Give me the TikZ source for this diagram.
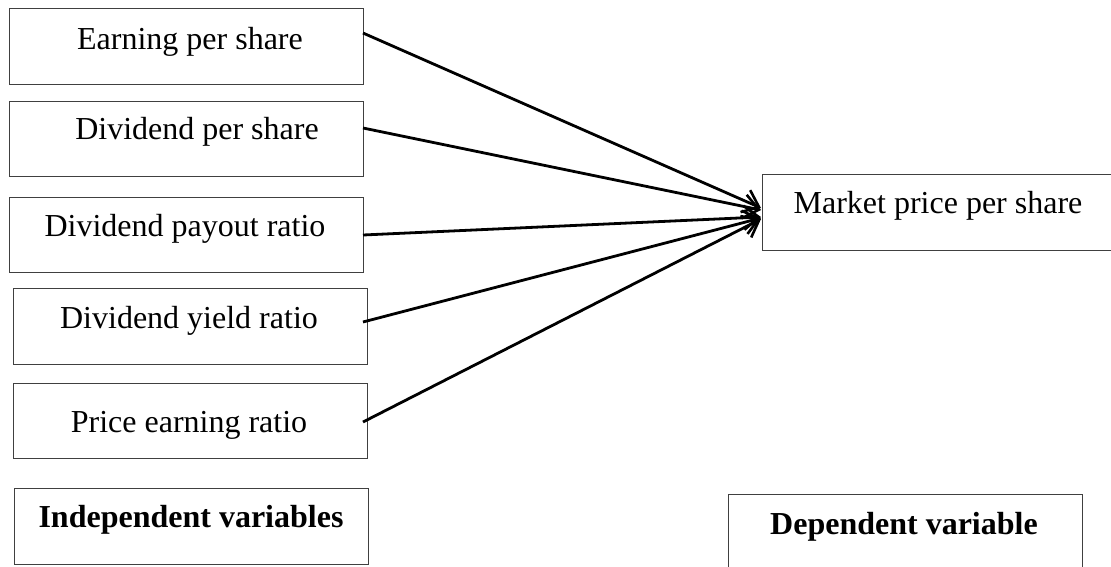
\documentclass[tikz,border=0pt]{standalone}
\usepackage{fontspec}
\setmainfont{Liberation Serif}
\usetikzlibrary{arrows.meta}
\begin{document}
\begin{tikzpicture}[x=1pt,y=-1pt,
  box/.style={draw=black!75, line width=1pt, rectangle, anchor=north west, inner sep=0pt},
  lbl/.style={anchor=base, inner sep=0pt, font=\fontsize{32}{38}\selectfont},
  blbl/.style={lbl, font=\fontsize{32}{38}\selectfont\bfseries},
  conn/.style={line width=2.8pt, -{Straight Barb[length=15pt,width=24pt,line width=2.6pt]}}]
\useasboundingbox (0,0) rectangle (1111,566);
% boxes
\node[box, minimum width=354pt, minimum height=76pt] (b1) at (9,8) {};
\node[box, minimum width=354pt, minimum height=75pt] (b2) at (9,101) {};
\node[box, minimum width=354pt, minimum height=75pt] (b3) at (9,197) {};
\node[box, minimum width=354pt, minimum height=76pt] (b4) at (13,288) {};
\node[box, minimum width=354pt, minimum height=75pt] (b5) at (13,383) {};
\node[box, minimum width=354pt, minimum height=76pt] (bi) at (14,488) {};
\node[box, minimum width=349pt, minimum height=76pt] (bm) at (762,174) {};
\node[box, minimum width=354pt, minimum height=90pt] (bd) at (728,494) {};
% labels
\node[lbl] (t1) at (190,49) {Earning per share};
\node[lbl] (t2) at (197,139) {Dividend per share};
\node[lbl] (t3) at (185,236) {Dividend payout ratio};
\node[lbl] (t4) at (189,328) {Dividend yield ratio};
\node[lbl] (t5) at (189,432) {Price earning ratio};
\node[blbl] (ti) at (191,527) {Independent variables};
\node[lbl] (tm) at (938,213) {Market price per share};
\node[blbl] (td) at (904,534) {Dependent variable};
% connector end points
\coordinate (s1) at (363,33);
\coordinate (s2) at (363,128);
\coordinate (s3) at (363,235);
\coordinate (s4) at (363,322);
\coordinate (s5) at (363,422);
\coordinate (e1) at (761,208);
\coordinate (e2) at (761,210);
\coordinate (e3) at (761,217);
\coordinate (e4) at (761,218);
\coordinate (e5) at (761,219);
\draw[conn] (s1) -- (e1);
\draw[conn] (s2) -- (e2);
\draw[conn] (s3) -- (e3);
\draw[conn] (s4) -- (e4);
\draw[conn] (s5) -- (e5);
\end{tikzpicture}
\end{document}
